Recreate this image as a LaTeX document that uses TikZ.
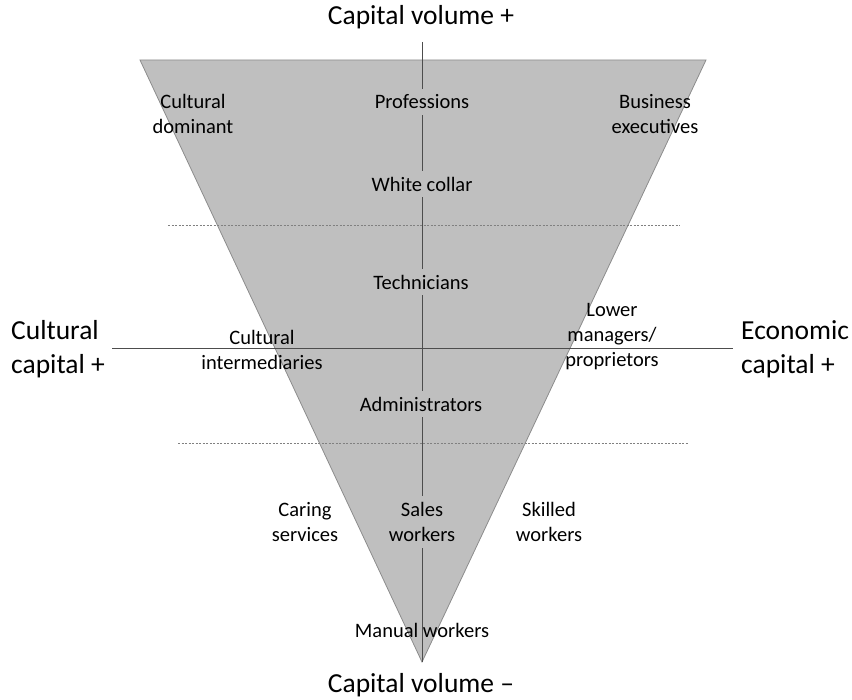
\documentclass[tikz,border=0pt]{standalone}
\usepackage{fontspec}
\setmainfont{Carlito}
\definecolor{wedge}{HTML}{BFBFBF}
\definecolor{wedgeedge}{HTML}{8C8C8C}
\definecolor{axis}{HTML}{4D4D4D}
\begin{document}
\begin{tikzpicture}[x=1pt,y=-1pt,
  small/.style={font=\fontsize{20.5}{25}\selectfont, align=center, inner sep=1pt},
  inlay/.style={small, fill=wedge, inner xsep=2pt, inner ysep=6pt},
  big/.style={font=\fontsize{27.5}{34}\selectfont, inner sep=0pt},
  axisline/.style={draw=axis, line width=0.9pt},
  tier/.style={draw=gray, line width=0.6pt, dash pattern=on 2pt off 1.5pt}]
\useasboundingbox (0,0) rectangle (852,700);

% the inverted triangle of social space
\coordinate (tl) at (140,60);
\coordinate (tr) at (706,60);
\coordinate (apex) at (422,662);
\fill[wedge, draw=wedgeedge, line width=0.8pt] (tl) -- (tr) -- (apex) -- cycle;

% tier boundaries
\coordinate (d1l) at (168,225); \coordinate (d1r) at (680,225);
\coordinate (d2l) at (178,443); \coordinate (d2r) at (688,443);
\draw[tier] (d1l) -- (d1r);
\draw[tier] (d2l) -- (d2r);

% axes
\coordinate (vtop) at (422,42);
\coordinate (hl) at (112,348);
\coordinate (hr) at (733,348);
\draw[axisline] (vtop) -- (apex);
\draw[axisline] (hl) -- (hr);

% axis titles
\node[big] (cvp) at (421,17) {Capital volume +};
\node[big] (cvm) at (421,685) {Capital volume –};
\node[big, align=left, anchor=west] (ccp) at (11,349) {Cultural\\capital +};
\node[big, align=left, anchor=west] (ecp) at (741,349) {Economic\\capital +};

% occupational groups on the vertical axis
\node[inlay] (prof) at (422,102) {Professions};
\node[inlay] (white) at (422,184) {White collar};
\node[inlay] (tech) at (421,282) {Technicians};
\node[inlay] (admin) at (421,404) {Administrators};
\node[inlay] (sales) at (422,522) {Sales\\workers};
\node[small] (manual) at (422,630) {Manual workers};

% groups to the sides
\node[small] (cdom) at (193,114) {Cultural\\dominant};
\node[small] (bexec) at (655,114) {Business\\executives};
\node[small] (cint) at (262,350) {Cultural\\intermediaries};
\node[small] (lman) at (612,337) {Lower\\managers/\\proprietors};
\node[small] (care) at (305,522) {Caring\\services};
\node[small] (skill) at (549,522) {Skilled\\workers};
\end{tikzpicture}
\end{document}
